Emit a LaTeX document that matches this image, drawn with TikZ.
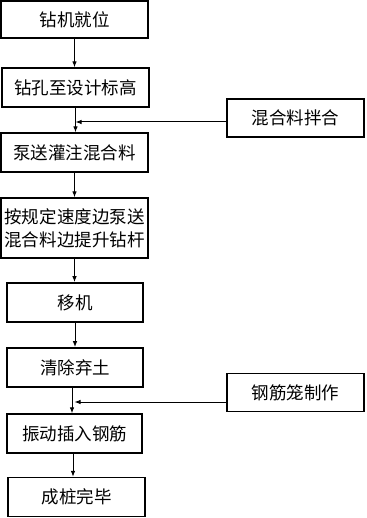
\documentclass[tikz,border=0pt]{standalone}
\usepackage{fontspec}
\newfontfamily\cjk{Noto Sans CJK SC}
\usetikzlibrary{arrows.meta}

\begin{document}
\begin{tikzpicture}[x=1pt, y=-1pt,
    stepbox/.style={draw=black, line width=1.2pt, minimum width=147pt, minimum height=39pt,
        inner sep=0pt, align=center, font=\cjk\fontsize{17.5}{23}\selectfont},
    narrowbox/.style={stepbox, line width=1.6pt, minimum width=136pt},
    sidebox/.style={stepbox, minimum width=137pt, minimum height=38pt},
    flow/.style={-{Latex[length=6pt,width=4.5pt]}, line width=1pt}]
    \fill[white] (0,0) rectangle (366,518);
    \useasboundingbox (0,0) rectangle (366,518);
    % main column
    \node[stepbox, minimum height=37pt] (drill) at (74.5,19.5) {钻机就位};
    \node[stepbox] (depth) at (75.5,87.5) {钻孔至设计标高};
    \node[stepbox] (pump) at (74.5,152.5) {泵送灌注混合料};
    \node[stepbox, minimum height=60pt] (lift) at (74.5,228) {按规定速度边泵送\\混合料边提升钻杆};
    \node[narrowbox] (move) at (75,302.5) {移机};
    \node[narrowbox] (clear) at (75,367.5) {清除弃土};
    \node[stepbox, minimum width=135pt] (insert) at (74.5,433.5) {振动插入钢筋};
    \node[stepbox, minimum width=137pt] (done) at (76.5,497) {成桩完毕};
    % side column
    \node[sidebox] (mix) at (295.5,118) {混合料拌合};
    \node[sidebox] (cage) at (295.5,392.5) {钢筋笼制作};
    % arrows down the column
    \draw[flow] (drill.south) -- (drill.south |- depth.north);
    \draw[flow] (depth.south) -- (depth.south |- pump.north);
    \draw[flow] (pump.south) -- (pump.south |- lift.north);
    \draw[flow] (lift.south) -- (lift.south |- move.north);
    \draw[flow] (move.south) -- (move.south |- clear.north);
    \draw[flow] ([xshift=-3pt]clear.south) -- ([xshift=-3pt]clear.south |- insert.north);
    \draw[flow] ([xshift=-1.5pt]insert.south) -- ([xshift=-1.5pt]insert.south |- done.north);
    % side feeds
    \coordinate (mixin) at ([yshift=-4pt]mix.west);
    \coordinate (cagein) at ([yshift=-9.5pt]cage.west);
    \draw[flow] (mixin) -- (mixin -| depth.south);
    \draw[flow] (cagein) -- (cagein -| insert.north);
\end{tikzpicture}
\end{document}
